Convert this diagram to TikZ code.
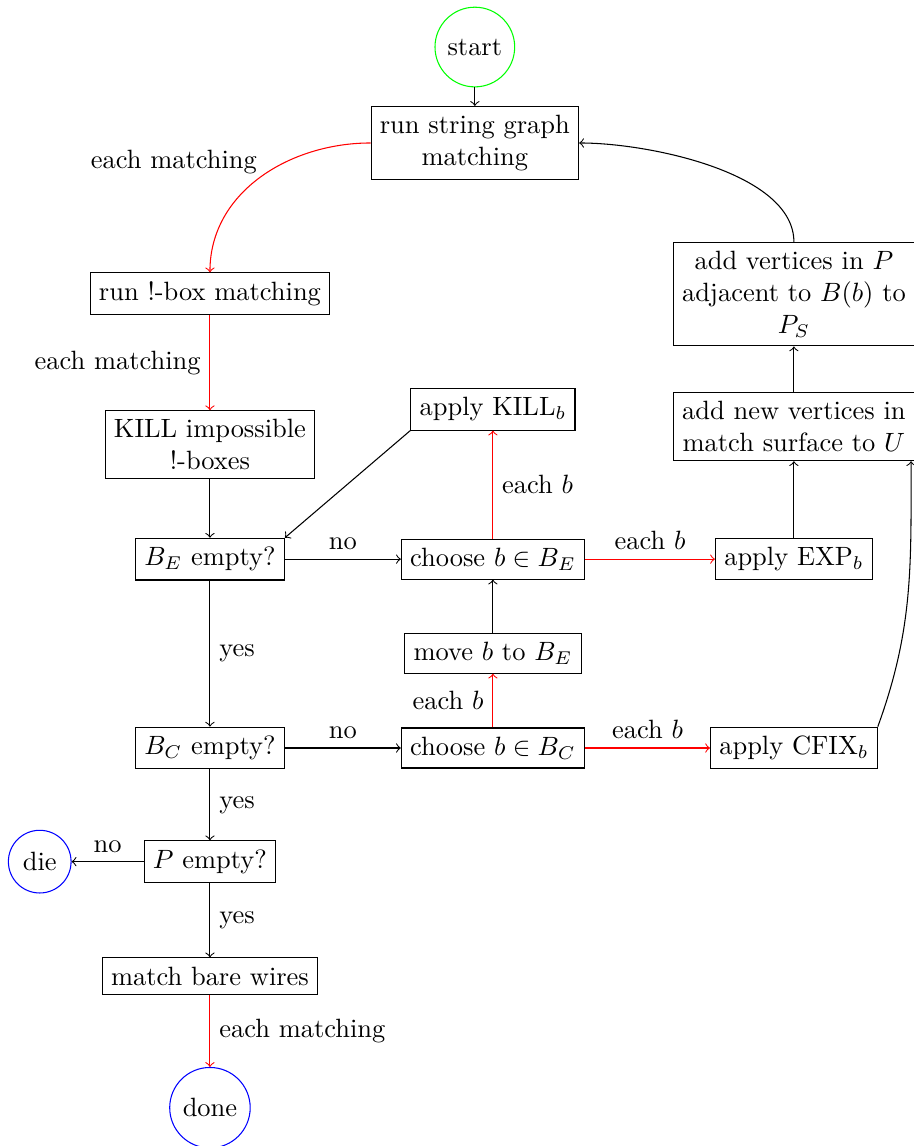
\documentclass[tikz,border=0pt]{standalone}
\usepackage{amsmath}
\usepackage{amssymb}
\usepackage{tikz}

\begin{document}
\begin{tikzpicture}[->, draw=black]
    \tikzstyle{block}=[rectangle, draw=black, align=center]
    \tikzstyle{terminal}=[circle, draw]
    \tikzstyle{each edge}=[draw=red]

    \useasboundingbox (0,0) rectangle (12.133,-15.229);

    % Draw the start and end nodes
    \node[terminal, draw=green] (start) at (6.31,-0.625) {start};
    \node[terminal, draw=blue] (die) at (0.528,-11.45) {die};
    \node[terminal, draw=blue] (done) at (2.79,-14.72) {done};

    % Draw the left column
    \node[block] (rsg) at (6.31,-1.90) {run string graph\\matching};
    \node[block] (rbm) at (2.79,-3.905) {run !-box matching};
    \node[block] (kill) at (2.79,-5.91) {KILL impossible\\!-boxes};
    \node[block] (be) at (2.79,-7.43) {$B_E$ empty?};
    \node[block] (bc) at (2.79,-9.94) {$B_C$ empty?};
    \node[block] (pe) at (2.79,-11.45) {$P$ empty?};
    \node[block] (mbw) at (2.79,-12.97) {match bare wires};

    % Draw the middle column
    \node[block] (akill) at (6.55,-5.44) {apply KILL$_b$};
    \node[block] (cbe) at (6.55,-7.43) {choose $b \in B_E$};
    \node[block] (mv) at (6.55,-8.68) {move $b$ to $B_E$};
    \node[block] (cbc) at (6.55,-9.94) {choose $b \in B_C$};

    % Draw the right column
    \node[block] (avp) at (10.55,-3.91) {add vertices in $P$\\adjacent to $B(b)$ to\\$P_S$};
    \node[block] (anv) at (10.55,-5.67) {add new vertices in\\match surface to $U$};
    \node[block] (aexp) at (10.55,-7.43) {apply EXP$_b$};
    \node[block] (acfix) at (10.55,-9.94) {apply CFIX$_b$};

    % Plain steps
    \foreach \source / \dest in {start/rsg, kill/be, aexp/anv, anv/avp, mv/cbe}
        \path (\source) edge (\dest);

    % Steps taken for each matching or each box
    \draw[each edge] (rsg.west) to[out=180,in=90] node[midway, above left, inner sep=1pt] {each matching} (rbm.north);
    \draw[each edge] (rbm) -- node[left] {each matching} (kill);
    \draw[each edge] (cbe) -- node[right] {each $b$} (akill);
    \draw[each edge] (cbe) -- node[above] {each $b$} (aexp);
    \draw[each edge] (cbc) -- node[left] {each $b$} (mv);
    \draw[each edge] (cbc) -- node[above] {each $b$} (acfix);
    \draw[each edge] (mbw) -- node[right] {each matching} (done);

    % Decisions
    \draw (be) -- node[above] {no} (cbe);
    \draw (be) -- node[right] {yes} (bc);
    \draw (bc) -- node[above] {no} (cbc);
    \draw (bc) -- node[right] {yes} (pe);
    \draw (pe) -- node[above] {no} (die);
    \draw (pe) -- node[right] {yes} (mbw);

    % Loops back
    \draw (akill.south west) -- (be.north east);
    \draw (avp.north) to[out=90,in=0,looseness=0.75] (rsg.east);
    \draw (acfix.north east) to[out=70,in=-90] ([xshift=-1.5pt]anv.south east);
\end{tikzpicture}
\end{document}
